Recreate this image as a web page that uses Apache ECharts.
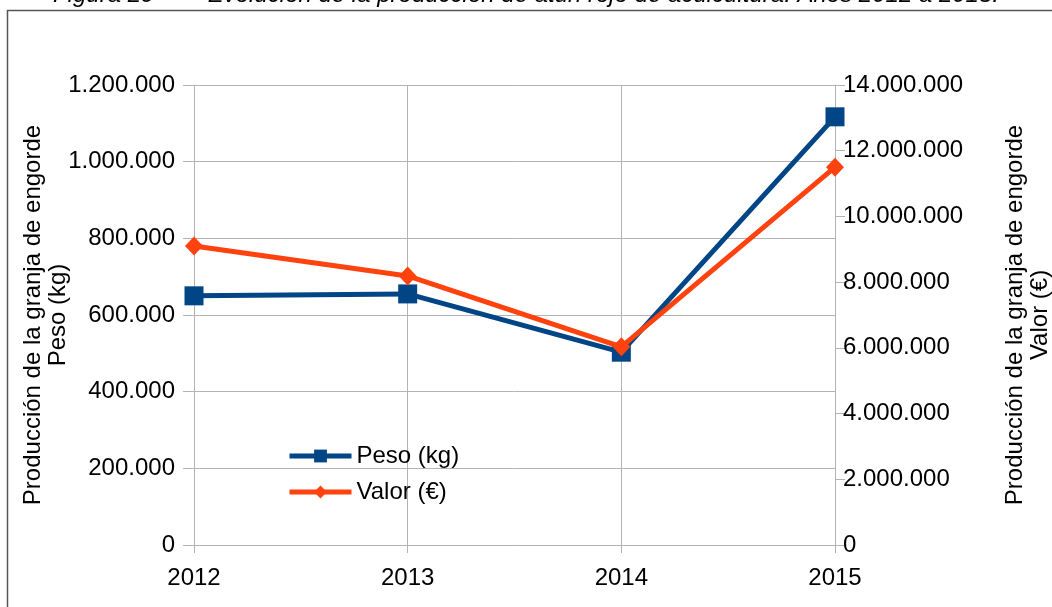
<!DOCTYPE html>
<html>
<head>
<meta charset="utf-8">
<script src="https://cdn.jsdelivr.net/npm/echarts@6/dist/echarts.min.js"></script>
<style>html,body{margin:0;padding:0;background:#fff;overflow:hidden}#c{width:1052px;height:607px}</style>
</head>
<body>
<div id="c"></div>
<script>
var categories = ['2012', '2013', '2014', '2015'];
var pesoKg = [650000, 655000, 503000, 1117000];
var valorEur = [9100000, 8190000, 6030000, 11500000];
var seriesNames = ['Peso (kg)', 'Valor (€)'];
var leftAxisName = 'Producción de la granja de engorde\nPeso (kg)';
var rightAxisName = 'Producción de la granja de engorde\nValor (€)';
var titleText = 'Figura 29        Evolución de la producción de atún rojo de acuicultura. Años 2012 a 2015.';

function fmt(v) {
  return String(Math.round(v)).replace(/\B(?=(\d{3})+(?!\d))/g, '.');
}
var FONT = '"Liberation Sans", Arial, sans-serif';
var FS = 24;
var chart = echarts.init(document.getElementById('c'), null, {renderer: 'canvas'});
chart.setOption({
  animation: false,
  backgroundColor: '#fff',
  textStyle: {fontFamily: FONT},
  graphic: [
    {type: 'rect', left: 5, top: 8, shape: {x: 0, y: 0, width: 1100, height: 700},
      style: {fill: 'none', stroke: '#555', lineWidth: 1.5}, silent: true, z: -1},
    {type: 'text', left: 'center', top: -17,
      style: {text: titleText, font: 'italic 24px "Liberation Sans", Arial, sans-serif', fill: '#000'}}
  ],
  grid: {left: 194, right: 217, top: 85, bottom: 62, containLabel: false, outerBoundsMode: 'none'},
  legend: {
    orient: 'vertical', left: 282, top: 439, itemGap: 12,
    itemWidth: 62, itemHeight: 16,
    lineStyle: {width: 5},
    textStyle: {fontSize: FS, color: '#000', fontFamily: FONT},
    data: seriesNames
  },
  xAxis: {
    type: 'category', data: categories, boundaryGap: false,
    axisLine: {show: true, lineStyle: {color: '#b3b3b3', width: 1}},
    axisTick: {show: true, length: 8, lineStyle: {color: '#b3b3b3'}},
    splitLine: {show: true, lineStyle: {color: '#b3b3b3', width: 1}},
    axisLabel: {fontSize: FS, color: '#000', margin: 21, fontFamily: FONT}
  },
  yAxis: [
    {
      type: 'value', min: 0, max: 1200000, interval: 200000, position: 'left',
      name: leftAxisName, nameLocation: 'middle', nameRotate: 90, nameGap: 123,
      nameMoveOverlap: false,
      nameTextStyle: {fontSize: FS, color: '#000', fontFamily: FONT, lineHeight: 25},
      axisLine: {show: true, lineStyle: {color: '#b3b3b3'}},
      axisTick: {show: true, length: 11, lineStyle: {color: '#b3b3b3'}},
      splitLine: {show: true, lineStyle: {color: '#b3b3b3'}},
      axisLabel: {fontSize: FS, color: '#000', margin: 19, formatter: fmt, fontFamily: FONT}
    },
    {
      type: 'value', min: 0, max: 14000000, interval: 2000000, position: 'right',
      name: rightAxisName, nameLocation: 'middle', nameRotate: 90, nameGap: 168,
      nameMoveOverlap: false,
      nameTextStyle: {fontSize: FS, color: '#000', fontFamily: FONT, lineHeight: 25},
      axisLine: {show: true, lineStyle: {color: '#b3b3b3'}},
      axisTick: {show: true, length: 10, lineStyle: {color: '#b3b3b3'}},
      splitLine: {show: false},
      axisLabel: {fontSize: FS, color: '#000', margin: 8, formatter: fmt, fontFamily: FONT}
    }
  ],
  series: [
    {
      name: seriesNames[0], type: 'line', yAxisIndex: 0, data: pesoKg,
      symbol: 'rect', symbolSize: 19, showAllSymbol: true,
      lineStyle: {color: '#004586', width: 5},
      itemStyle: {color: '#004586'}, z: 2
    },
    {
      name: seriesNames[1], type: 'line', yAxisIndex: 1, data: valorEur,
      symbol: 'diamond', symbolSize: [18, 19], showAllSymbol: true,
      lineStyle: {color: '#ff420e', width: 5},
      itemStyle: {color: '#ff420e'}, z: 3
    }
  ]
});
</script>
</body>
</html>
